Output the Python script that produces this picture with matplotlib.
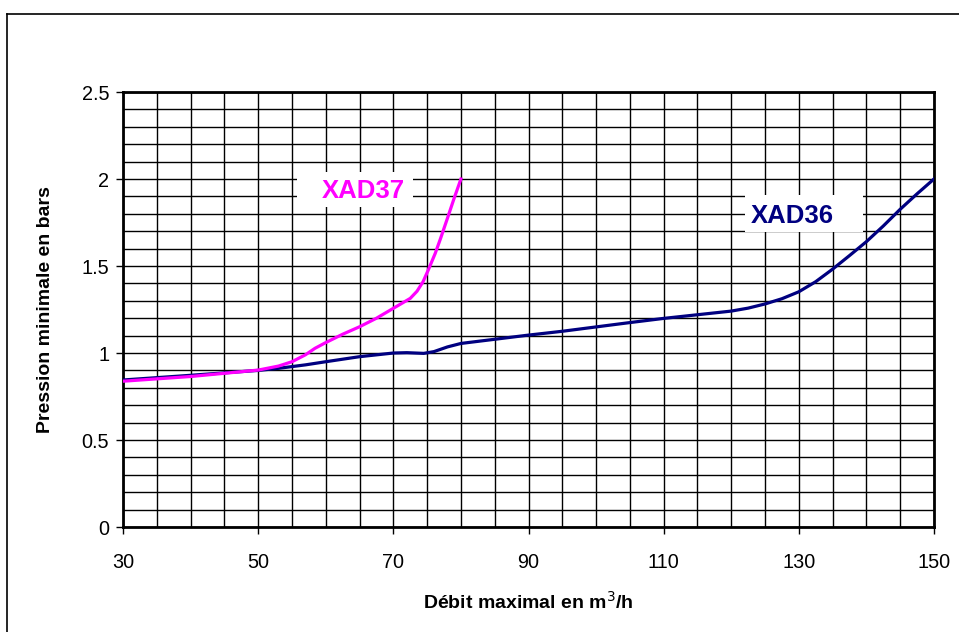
import matplotlib
matplotlib.use('Agg')
import matplotlib.pyplot as plt
from matplotlib.ticker import MultipleLocator
from matplotlib.lines import Line2D
from matplotlib.patches import Rectangle

plt.rcParams['font.family'] = ['Liberation Sans', 'DejaVu Sans']

# debit (m3/h) and pression (bars)
xad36_x = [30, 40, 50, 53, 57, 60, 65, 70, 72, 74.5, 76, 78, 80, 85, 90, 95, 100, 105, 110,
           115, 120, 122.5, 125, 127.5, 130, 132.5, 135, 137.5, 140, 142.5, 145, 147.5, 150]
xad36_y = [0.845, 0.872, 0.90, 0.912, 0.932, 0.95, 0.979, 1.0, 1.002, 0.998, 1.008, 1.035,
           1.055, 1.079, 1.103, 1.125, 1.15, 1.175, 1.199, 1.22, 1.241, 1.258, 1.282, 1.312,
           1.352, 1.41, 1.482, 1.56, 1.64, 1.73, 1.826, 1.915, 2.0]

xad37_x = [30, 40, 50, 53, 55, 57, 58.4, 60, 62.5, 65, 67.5, 70, 72.5, 73.5, 74.4, 75.2,
           76.2, 77, 78, 79, 80]
xad37_y = [0.838, 0.865, 0.902, 0.925, 0.95, 0.99, 1.027, 1.06, 1.108, 1.151, 1.2, 1.257,
           1.314, 1.355, 1.41, 1.48, 1.573, 1.66, 1.774, 1.89, 2.0]

x_ticks = [30, 50, 70, 90, 110, 130, 150]
y_ticks = [0, 0.5, 1, 1.5, 2, 2.5]
y_tick_labels = ['0', '0.5', '1', '1.5', '2', '2.5']

navy = '#000080'
magenta = '#ff00ff'

fig = plt.figure(figsize=(9.59, 6.32), dpi=100)
ax = fig.add_axes([0.1283, 0.1661, 0.8456, 0.6883])

ax.plot(xad36_x, xad36_y, color=navy, lw=2.3, zorder=3)
ax.plot(xad37_x, xad37_y, color=magenta, lw=2.3, zorder=3)

ax.set_xlim(30, 150)
ax.set_ylim(0, 2.5)
ax.set_xticks(x_ticks)
ax.xaxis.set_minor_locator(MultipleLocator(5))
ax.set_yticks(y_ticks)
ax.set_yticklabels(y_tick_labels)
ax.yaxis.set_minor_locator(MultipleLocator(0.1))
ax.grid(which='both', color='black', lw=1.0)
ax.set_axisbelow(True)
ax.tick_params(which='major', direction='out', length=5, width=1, labelsize=14.3)
ax.tick_params(axis='x', pad=14)
ax.tick_params(axis='y', pad=5)
ax.tick_params(which='minor', length=0)
for s in ax.spines.values():
    s.set_linewidth(2)

ax.set_xlabel('Débit maximal en m$^{3}$/h', fontsize=14, fontweight='bold', labelpad=13)
ax.set_ylabel('Pression minimale en bars', fontsize=14, fontweight='bold', labelpad=20)

# white label boxes hiding the grid behind the series names
ax.add_patch(Rectangle((55.75, 1.839), 17.15, 0.2, facecolor='white', edgecolor='none', zorder=2))
ax.add_patch(Rectangle((122.0, 1.695), 17.5, 0.213, facecolor='white', edgecolor='none', zorder=2))
ax.text(65.5, 1.93, 'XAD37', color=magenta, fontsize=18.5, fontweight='bold',
        ha='center', va='center', zorder=4)
ax.text(129.1, 1.787, 'XAD36', color=navy, fontsize=18.5, fontweight='bold',
        ha='center', va='center', zorder=4)

# outer chart-area border (left and top visible)
fig.add_artist(Line2D([7 / 959, 7 / 959], [0, 1 - 14 / 632], color='black', lw=1.2))
fig.add_artist(Line2D([7 / 959, 1], [1 - 14 / 632, 1 - 14 / 632], color='black', lw=1.2))

fig.savefig('out.png')
